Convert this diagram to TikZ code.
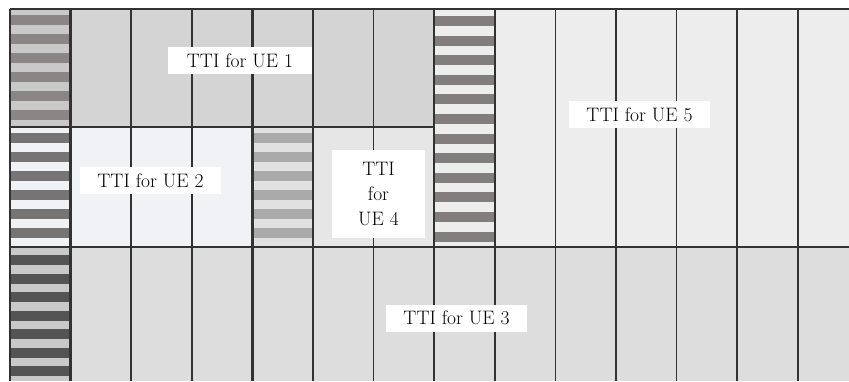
\documentclass[tikz,border=0pt]{standalone}
\usepackage{tikz}
\usetikzlibrary{positioning}
\definecolor{UEoneGray}{RGB}{212,212,212}
\definecolor{UEtwoGray}{RGB}{240,242,245}
\definecolor{UEthreeGray}{RGB}{221,221,221}
\definecolor{UEfourGray}{RGB}{230,230,230}
\definecolor{UEfiveGray}{RGB}{237,237,237}
\definecolor{CtrlDarkA}{RGB}{138,134,134}
\definecolor{CtrlDarkB}{RGB}{118,116,116}
\definecolor{CtrlDarkC}{RGB}{85,84,84}
\definecolor{CtrlDarkD}{RGB}{130,126,126}
\definecolor{CtrlDarkE}{RGB}{170,170,170}
\definecolor{GridLine}{RGB}{50,50,50}

\begin{document}
\begin{tikzpicture}[x=1pt, y=-1pt,
	gridline/.style={line width=1.5pt, draw=GridLine},
	borderline/.style={line width=2.4pt, draw=GridLine},
	ttilabel/.style={fill=white, inner sep=0pt, minimum height=27pt,
		font=\fontsize{19.5}{25}\selectfont}]
		\pgfmathsetmacro{\w}{60.6}
		
		% page
		\useasboundingbox (0,0) rectangle (849,381);
		\fill[white] (0,0) rectangle (849,381);
		
		% TTI regions
		\fill[UEoneGray] (10+\w,9) rectangle (10+7*\w,127);
		\fill[UEtwoGray] (10+\w,127) rectangle (10+4*\w,247);
		\fill[UEfourGray] (10+5*\w,127) rectangle (10+7*\w,247);
		\fill[UEfiveGray] (10+8*\w,9) rectangle (849,247);
		\fill[UEthreeGray] (10+\w,247) rectangle (849,381);
		
		% control channel stripes
		\fill[UEoneGray!95!black] (10,9) rectangle (10+\w,127);
		\fill[UEtwoGray] (10,127) rectangle (10+\w,247);
		\fill[UEoneGray!95!black] (10,247) rectangle (10+\w,381);
		\fill[UEfiveGray] (10+7*\w,9) rectangle (10+8*\w,247);
		\fill[UEfourGray!98!black] (10+4*\w,127) rectangle (10+5*\w,247);
		\foreach \i in {0,...,5} {
			\fill[CtrlDarkA] (10,15+19*\i) rectangle (10+\w,25+19*\i);
			\fill[CtrlDarkB] (10,133+19*\i) rectangle (10+\w,143+19*\i);
			\fill[CtrlDarkE] (10+4*\w,133+19*\i) rectangle (10+5*\w,143+19*\i);
		}
		\foreach \i in {0,...,6}
			\fill[CtrlDarkC] (10,255+18.5*\i) rectangle (10+\w,265+18.5*\i);
		\foreach \i in {0,...,11}
			\fill[CtrlDarkD] (10+7*\w,16+19.6*\i) rectangle (10+8*\w,26+19.6*\i);
		
		% grid
		\foreach \c in {1,2,3,5,6,8,9,10,11,12,13}
			\draw[gridline] (10+\c*\w,9) -- (10+\c*\w,381);
		\foreach \c in {4,7}
			\draw[borderline] (10+\c*\w,9) -- (10+\c*\w,381);
		\draw[borderline] (10,9) -- (849,9);
		\draw[borderline] (10,381) -- (10,9);
		\draw[borderline] (10,127) -- (10+7*\w,127);
		\draw[borderline] (10,247) -- (849,247);
		\draw[borderline] (10+\w,9) -- (10+\w,381);
		\draw[borderline] (10+5*\w,127) -- (10+5*\w,247);
		\draw[borderline] (10+8*\w,9) -- (10+8*\w,247);
		
		% labels
		\node[ttilabel, minimum width=144pt] (ue1) at (240,60.5) {TTI for UE 1};
		\node[ttilabel, minimum width=141pt] (ue2) at (150.5,180.5) {TTI for UE 2};
		\node[ttilabel, minimum width=93pt, minimum height=88pt, align=center]
			(ue4) at (378.5,194) {TTI\\for\\UE 4};
		\node[ttilabel, minimum width=141pt] (ue5) at (639.5,114.5) {TTI for UE 5};
		\node[ttilabel, minimum width=141pt] (ue3) at (456.5,318) {TTI for UE 3};
	\end{tikzpicture}
\end{document}
